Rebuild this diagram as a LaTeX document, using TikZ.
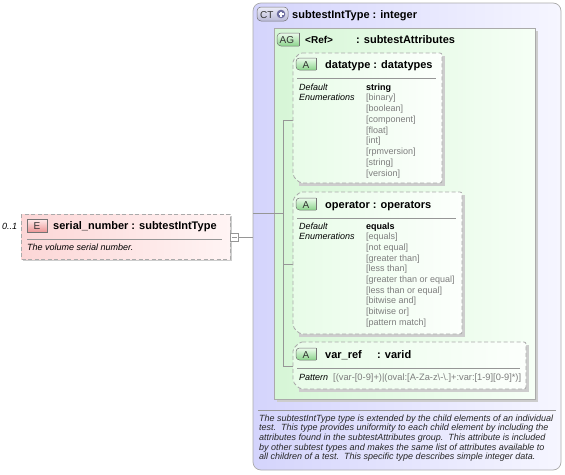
\documentclass[tikz,border=0pt]{standalone}
\usepackage{fontspec}
\setmainfont{Liberation Sans}
\definecolor{boxgray}{RGB}{170,170,170}
\definecolor{linegray}{RGB}{150,150,150}
\definecolor{shadowgray}{RGB}{205,205,205}
\definecolor{valgray}{RGB}{125,125,125}
\definecolor{elemL}{RGB}{252,214,214}
\definecolor{elemR}{RGB}{255,244,244}
\definecolor{ctL}{RGB}{212,212,252}
\definecolor{ctR}{RGB}{246,246,255}
\definecolor{agL}{RGB}{214,246,214}
\definecolor{agR}{RGB}{246,255,246}
\definecolor{attrL}{RGB}{232,252,232}
\definecolor{attrR}{RGB}{252,255,252}
\definecolor{bgT}{RGB}{236,252,236}
\definecolor{bgB}{RGB}{140,212,140}
\definecolor{beT}{RGB}{255,236,236}
\definecolor{beB}{RGB}{236,150,150}
\definecolor{bcT}{RGB}{236,236,248}
\definecolor{bcB}{RGB}{186,186,216}
\definecolor{iconC}{RGB}{110,110,160}
\tikzset{
  txts/.style={font=\fontsize{9}{10}\selectfont, inner sep=0pt, anchor=base west},
  txti/.style={txts, font=\fontsize{9}{10}\selectfont\itshape},
  txtv/.style={txts, text=valgray},
  txtt/.style={font=\fontsize{11}{13}\selectfont\bfseries, inner sep=0pt, anchor=base west},
  dashbox/.style={draw=boxgray, dash pattern=on 4pt off 2.5pt, line width=0.8pt},
  treeline/.style={draw=linegray, line width=0.6pt},
  sepline/.style={draw=linegray, line width=0.6pt},
  badgeA/.style={draw=black!55, line width=0.5pt, top color=bgT, bottom color=bgB},
  badgetxt/.style={font=\fontsize{10}{11}\selectfont, inner sep=0pt, anchor=base west, text=black!80},
}
\newcommand\attrbox[4]{%
  \fill[shadowgray] (#1+6,#2+3) rectangle (#3+3,#4+3);
  \path[left color=attrL, right color=attrR, rounded corners=2pt]
    (#1+7,#2) -- (#3,#2) -- (#3,#4) -- (#1+7,#4) -- (#1,#4-7) -- (#1,#2+7) -- cycle;
  \draw[dashbox, rounded corners=2pt]
    (#1+7,#2) -- (#3,#2) -- (#3,#4) -- (#1+7,#4) -- (#1,#4-7) -- (#1,#2+7) -- cycle;
}
\newcommand\abadge[2]{% x y (top-left)
  \draw[badgeA, rounded corners=3.5pt] (#1+20,#2) -- (#1,#2) -- (#1,#2+12) -- (#1+20,#2+12);
  \draw[badgeA] (#1+20,#2) -- (#1+20,#2+12);
}
\begin{document}
\begin{tikzpicture}[x=1pt,y=-1pt]
\useasboundingbox (0,0) rectangle (565,474);
% ---------- complex type box
\path[left color=ctL, right color=ctR, rounded corners=8pt] (253,3) rectangle (561,470);
\draw[draw=boxgray, line width=0.7pt, rounded corners=8pt] (253,3) rectangle (561,470);
\draw[draw=black!55, line width=0.5pt, top color=bcT, bottom color=bcB, rounded corners=4pt] (257,7) rectangle (288,21);
\node[badgetxt] (ctlbl) at (260,18) {CT};
\fill[iconC] (281,14) circle (4.3pt);
\draw[white, line width=1.2pt] (278.5,14) -- (283.5,14) (281,11.5) -- (281,16.5);
\node[txtt] (cttitle) at (292,18) {subtestIntType : integer};
% ---------- attribute group box
\fill[shadowgray] (277,31) rectangle (538,402);
\path[left color=agL, right color=agR] (274,28) rectangle (535,399);
\draw[draw=boxgray, line width=0.7pt] (274,28) rectangle (535,399);
\draw[badgeA, rounded corners=4pt] (299,33) -- (277,33) -- (277,46) -- (299,46);
\draw[badgeA] (299,33) -- (299,46);
\node[badgetxt] (aglbl) at (279.5,43.8) {AG};
\node[txtt, font=\fontsize{10}{12}\selectfont\bfseries] (agref) at (305,43.5) {<Ref>};
\node[txtt] (agtitle) at (356,43.5) {: subtestAttributes};
% ---------- tree lines
\coordinate (ctin) at (253,213);
\coordinate (trunk) at (283,213);
\coordinate (tTop) at (283,120);
\coordinate (tBot) at (283,366);
\coordinate (dtin) at (293,120);
\coordinate (opin) at (293,264);
\coordinate (vrin) at (293,366);
\draw[treeline] (ctin) -- (trunk);
\draw[treeline] (tTop) -- (tBot);
\draw[treeline] (tTop) -- (dtin);
\draw[treeline] (trunk |- opin) -- (opin);
\draw[treeline] (tBot) -- (vrin);
% ---------- datatype
\attrbox{293}{53}{442}{183}
\abadge{296}{58}
\node[badgetxt] (dtA) at (302.5,68) {A};
\node[txtt] (dttitle) at (325,68) {datatype : datatypes};
\draw[sepline] (297,78) -- (436,78);
\node[txti] (dtdef) at (299,90) {Default};
\node[txti] (dtenum) at (299,100.75) {Enumerations};
\node[txts, font=\fontsize{9}{10}\selectfont\bfseries] (dtv0) at (366,90) {string};
\foreach \v [count=\i] in {[binary],[boolean],[component],[float],[int],[rpmversion],[string],[version]}
  \node[txtv] (dtv\i) at (366,90+\i*10.75) {\v};
% ---------- operator
\attrbox{293}{192}{462}{334}
\abadge{296}{198}
\node[badgetxt] (opA) at (302.5,208) {A};
\node[txtt] (optitle) at (325,208) {operator : operators};
\draw[sepline] (297,218) -- (456,218);
\node[txti] (opdef) at (299,229) {Default};
\node[txti] (openum) at (299,239.67) {Enumerations};
\node[txts, font=\fontsize{9}{10}\selectfont\bfseries] (opv0) at (366,229) {equals};
\foreach \v [count=\i] in {[equals],[not equal],[greater than],[less than],[greater than or equal],[less than or equal],[bitwise and],[bitwise or],[pattern match]}
  \node[txtv] (opv\i) at (366,229+\i*10.67) {\v};
% ---------- var_ref
\attrbox{293}{342}{526}{389}
\abadge{296}{348}
\node[badgetxt] (vrA) at (302.5,358) {A};
\node[txtt] (vrname) at (325,358) {var\_ref};
\node[txtt] (vrtype) at (377,358) {: varid};
\draw[sepline] (297,368) -- (520,368);
\node[txti] (vrpat) at (299,380.5) {Pattern};
\node[txtv, font=\fontsize{9.3}{10}\selectfont] (vrval) at (333,380.5) {[(var-[0-9]+)|(oval:[A-Za-z\textbackslash-\textbackslash.]+:var:[1-9][0-9]*)]};
% ---------- description
\draw[sepline] (258,410) -- (556,410);
\foreach \t [count=\i from 0] in {%
  {The subtestIntType type is extended by the child elements of an individual},
  {test.\ \ This type provides uniformity to each child element by including the},
  {attributes found in the subtestAttributes group.\ \ This attribute is included},
  {by other subtest types and makes the same list of attributes available to},
  {all children of a test.\ \ This specific type describes simple integer data.}}
  \node[txti, font=\fontsize{9}{10}\selectfont\itshape, text=black!85] (desc\i) at (259,421+\i*9.7) {\t};
% ---------- element
\fill[shadowgray] (23,216) rectangle (232,261);
\path[left color=elemL, right color=elemR] (21,214) rectangle (230,259);
\draw[dashbox] (21,214) rectangle (230,259);
\node[txti] (card) at (2,229) {0..1};
\draw[draw=black!55, line width=0.5pt, top color=beT, bottom color=beB] (27,219) rectangle (47,232);
\node[badgetxt] (elE) at (33.5,229.5) {E};
\node[txtt] (eltitle) at (53,229.5) {serial\_number : subtestIntType};
\draw[sepline] (27,239) -- (222,239);
\node[txti] (eldoc) at (27,250) {The volume serial number.};
\node[draw=linegray, fill=white, line width=0.6pt, minimum size=8pt, inner sep=0pt] (minus) at (234,237) {};
\draw[linegray, line width=0.6pt] (231.5,237) -- (236.5,237);
\coordinate (ctedge) at (253,237);
\draw[treeline] (minus.east) -- (ctedge);
\end{tikzpicture}
\end{document}
